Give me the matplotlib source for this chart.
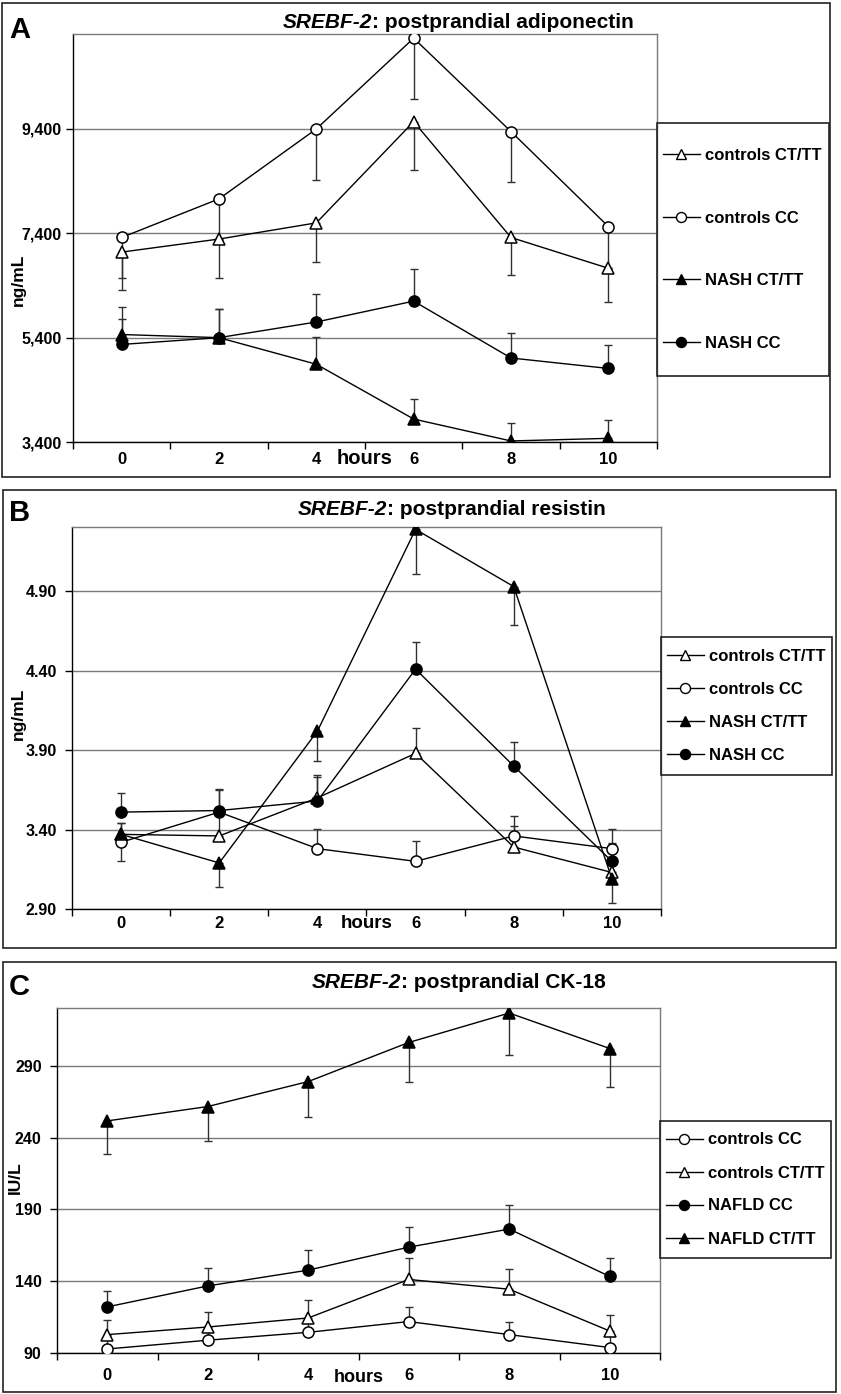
import matplotlib.pyplot as plt
from matplotlib.patches import Rectangle
from matplotlib.lines import Line2D
from matplotlib.transforms import blended_transform_factory

plt.rcParams['font.family'] = ['Liberation Sans', 'DejaVu Sans']
plt.rcParams['font.weight'] = 'bold'

W, H = 841, 1394

hours = [0, 2, 4, 6, 8, 10]
hour_labels = ['0', '2', '4', '6', '8', '10']

# panel A: adiponectin, ng/mL
adipo_ctrl_ctt = [7040, 7290, 7600, 9540, 7320, 6730]
adipo_ctrl_ctt_err = [720, 745, 750, 920, 725, 655]
adipo_ctrl_cc = [7320, 8060, 9400, 11140, 9350, 7530]
adipo_ctrl_cc_err = [770, 780, 985, 1170, 970, 800]
adipo_nash_ctt = [5460, 5400, 4890, 3840, 3420, 3470]
adipo_nash_ctt_err = [300, 540, 520, 385, 350, 350]
adipo_nash_cc = [5270, 5400, 5700, 6100, 5010, 4810]
adipo_nash_cc_err = [720, 540, 530, 610, 480, 450]
adipo_ticks = [3400, 5400, 7400, 9400]
adipo_ticklabels = ['3,400', '5,400', '7,400', '9,400']

# panel B: resistin, ng/mL
resist_ctrl_ctt = [3.37, 3.36, 3.60, 3.88, 3.29, 3.13]
resist_ctrl_ctt_err = [0.07, 0.15, 0.145, 0.16, 0.135, 0.18]
resist_ctrl_cc = [3.32, 3.51, 3.28, 3.20, 3.36, 3.28]
resist_ctrl_cc_err = [0.12, 0.14, 0.125, 0.125, 0.125, 0.125]
resist_nash_ctt = [3.37, 3.19, 4.02, 5.29, 4.93, 3.09]
resist_nash_ctt_err = [0.17, 0.15, 0.19, 0.28, 0.24, 0.15]
resist_nash_cc = [3.51, 3.52, 3.58, 4.41, 3.80, 3.20]
resist_nash_cc_err = [0.12, 0.135, 0.15, 0.17, 0.15, 0.115]
resist_ticks = [2.90, 3.40, 3.90, 4.40, 4.90]
resist_ticklabels = ['2.90', '3.40', '3.90', '4.40', '4.90']

# panel C: CK-18, IU/L
ck_ctrl_cc = [92.8, 98.9, 104.4, 111.9, 102.8, 93.8]
ck_ctrl_cc_err = [8, 7, 8, 10, 9, 9]
ck_ctrl_ctt = [102.8, 108.1, 114.4, 141.2, 134.4, 105.3]
ck_ctrl_ctt_err = [10, 10.3, 12.4, 14.6, 14.2, 11]
ck_nafld_cc = [122.1, 136.7, 147.7, 163.7, 176.3, 143.3]
ck_nafld_cc_err = [10.9, 12.6, 13.7, 14.2, 16.7, 12.7]
ck_nafld_ctt = [251.6, 261.6, 279.0, 306.2, 326.7, 302.0]
ck_nafld_ctt_err = [23, 23.7, 24.6, 27.2, 29.3, 26.5]
ck_ticks = [90, 140, 190, 240, 290]
ck_ticklabels = ['90', '140', '190', '240', '290']

GRID = '#7a7a7a'

fig = plt.figure(figsize=(W / 100, H / 100), dpi=100)


def px_axes(l, t, r, b):
    return fig.add_axes([l / W, 1 - b / H, (r - l) / W, (b - t) / H])


def px_box(l, t, r, b, lw=1.2):
    fig.add_artist(Rectangle((l / W, 1 - b / H), (r - l) / W, (b - t) / H,
                             transform=fig.transFigure, fill=False,
                             ec='#222222', lw=lw))


def style(name):
    # marker, face colour, size
    if name == 'open_tri':
        return '^', 'white', 8.5
    if name == 'open_circ':
        return 'o', 'white', 8
    if name == 'tri':
        return '^', 'black', 8.5
    return 'o', 'black', 8


def draw_series(ax, vals, err, kind, up):
    m, fc, ms = style(kind)
    zeros = [0] * len(err)
    yerr = [zeros, err] if up else [err, zeros]
    ax.errorbar(hours, vals, yerr=yerr, fmt='none', ecolor='#303030',
                elinewidth=1, capsize=3, capthick=1, zorder=2)
    ax.plot(hours, vals, color='black', lw=1, marker=m, mfc=fc, mec='black',
            mew=1.1, ms=ms, zorder=3)


def setup_axes(ax, ylim, ticks, ticklabels, xpad, ypad):
    ax.set_xlim(-1, 11)
    ax.set_ylim(*ylim)
    ax.set_xticks(hours)
    ax.set_xticklabels(hour_labels, fontsize=12)
    ax.set_xticks([-1, 1, 3, 5, 7, 9, 11], minor=True)
    ax.tick_params(axis='x', which='major', length=0, pad=xpad)
    ax.tick_params(axis='x', which='minor', length=5, width=1, direction='out')
    ax.set_yticks(ticks)
    ax.set_yticklabels(ticklabels, fontsize=11.5)
    ax.tick_params(axis='y', length=5, width=1, direction='out', pad=ypad)
    ax.yaxis.grid(True, color=GRID, lw=1)
    ax.set_axisbelow(True)
    for s in ['top', 'right']:
        ax.spines[s].set_color(GRID)
        ax.spines[s].set_linewidth(1)
    for s in ['left', 'bottom']:
        ax.spines[s].set_color('black')
        ax.spines[s].set_linewidth(1)


def legend_box(ax, kinds, labels, box, spacing):
    l, t, r, b = box
    px_box(l, t, r, b, lw=1.2)
    handles = []
    for k in kinds:
        m, fc, ms = style(k)
        handles.append(Line2D([], [], color='black', lw=1, marker=m, mfc=fc,
                              mec='black', ms=ms * 0.9))
    ax.legend(handles, labels, loc='center left',
              bbox_to_anchor=((l + 6) / W, 1 - (t + b) / 2 / H),
              bbox_transform=fig.transFigure, frameon=False, borderpad=0,
              borderaxespad=0, handlelength=2.2, handletextpad=0.3,
              labelspacing=spacing, fontsize=12)


def title(ax, x, y, rest, fs=15):
    t1 = fig.text(x / W, 1 - y / H, 'SREBF-2', style='italic', fontsize=fs,
                  va='baseline')
    ax.annotate(rest, xy=(1, 0), xycoords=t1, va='bottom', ha='left',
                fontsize=fs, annotation_clip=False)


def hours_label(ax, y, fs):
    tr = blended_transform_factory(ax.transData, fig.transFigure)
    ax.text(5, 1 - y / H, 'hours', transform=tr, ha='center', va='center',
            fontsize=fs)


# ---------------- panel A ----------------
px_box(2, 3, 830, 477)
axA = px_axes(73, 34, 657, 442)
draw_series(axA, adipo_ctrl_ctt, adipo_ctrl_ctt_err, 'open_tri', False)
draw_series(axA, adipo_ctrl_cc, adipo_ctrl_cc_err, 'open_circ', False)
draw_series(axA, adipo_nash_ctt, adipo_nash_ctt_err, 'tri', True)
draw_series(axA, adipo_nash_cc, adipo_nash_cc_err, 'circ', True)
setup_axes(axA, (3400, 11220), adipo_ticks, adipo_ticklabels, xpad=7, ypad=3)
legend_box(axA, ['open_tri', 'open_circ', 'tri', 'circ'],
           ['controls CT/TT', 'controls CC', 'NASH CT/TT', 'NASH CC'],
           (657, 123, 829, 376), 2.85)
title(axA, 283, 28.5, ': postprandial adiponectin')
fig.text(9 / W, 1 - 38 / H, 'A', fontsize=21, va='baseline')
fig.text(18 / W, 1 - 280 / H, 'ng/mL', rotation=90, fontsize=12.5,
         ha='center', va='center')
hours_label(axA, 458, 14.5)

# ---------------- panel B ----------------
px_box(3, 490, 836, 948)
axB = px_axes(72, 527, 661, 909)
draw_series(axB, resist_ctrl_ctt, resist_ctrl_ctt_err, 'open_tri', True)
draw_series(axB, resist_ctrl_cc, resist_ctrl_cc_err, 'open_circ', True)
draw_series(axB, resist_nash_ctt, resist_nash_ctt_err, 'tri', False)
draw_series(axB, resist_nash_cc, resist_nash_cc_err, 'circ', True)
setup_axes(axB, (2.90, 5.305), resist_ticks, resist_ticklabels, xpad=5, ypad=6)
legend_box(axB, ['open_tri', 'open_circ', 'tri', 'circ'],
           ['controls CT/TT', 'controls CC', 'NASH CT/TT', 'NASH CC'],
           (661, 637, 832, 775), 1.08)
title(axB, 298, 515, ': postprandial resistin')
fig.text(9 / W, 1 - 521.5 / H, 'B', fontsize=21, va='baseline')
fig.text(18 / W, 1 - 714 / H, 'ng/mL', rotation=90, fontsize=12.5,
         ha='center', va='center')
hours_label(axB, 924, 13.5)

# ---------------- panel C ----------------
px_box(3, 962, 836, 1392)
axC = px_axes(57, 1008, 660, 1353)
draw_series(axC, ck_ctrl_cc, ck_ctrl_cc_err, 'open_circ', True)
draw_series(axC, ck_ctrl_ctt, ck_ctrl_ctt_err, 'open_tri', True)
draw_series(axC, ck_nafld_cc, ck_nafld_cc_err, 'circ', True)
draw_series(axC, ck_nafld_ctt, ck_nafld_ctt_err, 'tri', False)
setup_axes(axC, (90, 330.2), ck_ticks, ck_ticklabels, xpad=11, ypad=6)
legend_box(axC, ['open_circ', 'open_tri', 'circ', 'tri'],
           ['controls CC', 'controls CT/TT', 'NAFLD CC', 'NAFLD CT/TT'],
           (660, 1121, 831, 1258), 1.08)
title(axC, 312, 988, ': postprandial CK-18')
fig.text(9 / W, 1 - 995 / H, 'C', fontsize=21, va='baseline')
fig.text(15 / W, 1 - 1178 / H, 'IU/L', rotation=90, fontsize=12.5,
         ha='center', va='center')
hours_label(axC, 1377, 13)

fig.savefig('out.png', dpi=100)
